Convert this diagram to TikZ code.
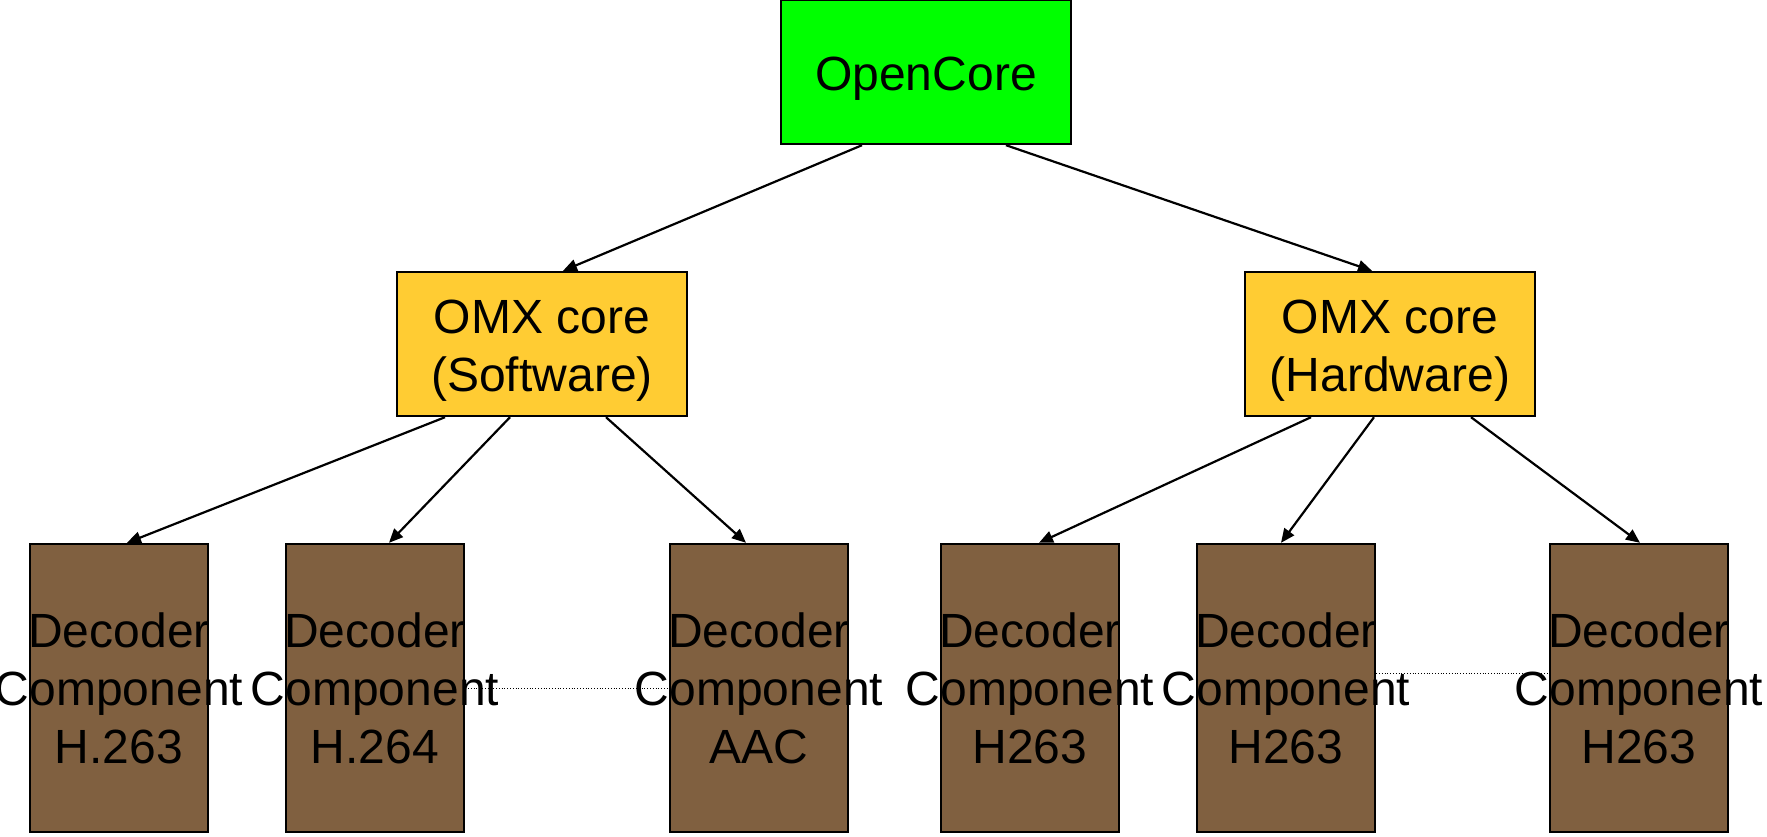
\documentclass[tikz,border=0pt]{standalone}
\usepackage{fontspec}
\setmainfont{Liberation Sans}
\usepackage{xcolor}
\usetikzlibrary{arrows.meta,positioning}
\definecolor{coregreen}{RGB}{0,255,0}
\definecolor{omxyellow}{RGB}{255,204,51}
\definecolor{decbrown}{RGB}{128,96,64}

\begin{document}
\begin{tikzpicture}[x=0.5pt,y=-0.5pt,
	txt/.style={align=center,inner sep=0pt,font=\fontsize{24}{29}\selectfont},
	box/.style={draw,line width=1.2pt,txt},
	corebox/.style={box,fill=coregreen,minimum width=145pt,minimum height=72pt,
		label={[txt,yshift=-3.2pt]center:#1}},
	omxbox/.style={box,fill=omxyellow,minimum width=145pt,minimum height=72pt,
		label={[txt,yshift=-3.2pt]center:OMX core\\(#1)}},
	decbox/.style={box,fill=decbrown,minimum width=89pt,minimum height=144pt,
		label={[txt]center:Decoder\\Component\\#1}},
	link/.style={line width=1.1pt,-{Triangle[length=7pt,width=6pt]}},
	peer/.style={thin,densely dotted}]
	\useasboundingbox (0,0) rectangle (1767,836);

	% Nodes
	\node[corebox=OpenCore] (open) at (926,72) {};
	\node[omxbox=Software] (sw) at (542,344) {};
	\node[omxbox=Hardware] (hw) at (1390,344) {};
	\node[decbox=H.263] (d1) at (119,688) {};
	\node[decbox=H.264] (d2) at (375,688) {};
	\node[decbox=AAC] (d3) at (759,688) {};
	\node[decbox=H263] (d4) at (1030,688) {};
	\node[decbox=H263] (d5) at (1286,688) {};
	\node[decbox=H263] (d6) at (1639,688) {};

	% Edges
	\draw[link] ([xshift=-32pt]open.south) -- ([xshift=10.5pt]sw.north);
	\draw[link] ([xshift=40pt]open.south) -- ([xshift=-9pt]hw.north);
	\draw[link] ([xshift=-48.5pt]sw.south) -- ([xshift=4pt]d1.north);
	\draw[link] ([xshift=-16pt]sw.south) -- ([xshift=7pt]d2.north);
	\draw[link] ([xshift=32pt]sw.south) -- ([xshift=-6.5pt]d3.north);
	\draw[link] ([xshift=-39.5pt]hw.south) -- ([xshift=4.5pt]d4.north);
	\draw[link] ([xshift=-8pt]hw.south) -- ([xshift=-2.5pt]d5.north);
	\draw[link] ([xshift=40.5pt]hw.south) -- ([xshift=0.5pt]d6.north);
	\draw[peer] (d2.east) -- (d3.west);
	\draw[peer] ([yshift=7.5pt]d5.east) -- ([yshift=7.5pt]d6.west);
\end{tikzpicture}
\end{document}
